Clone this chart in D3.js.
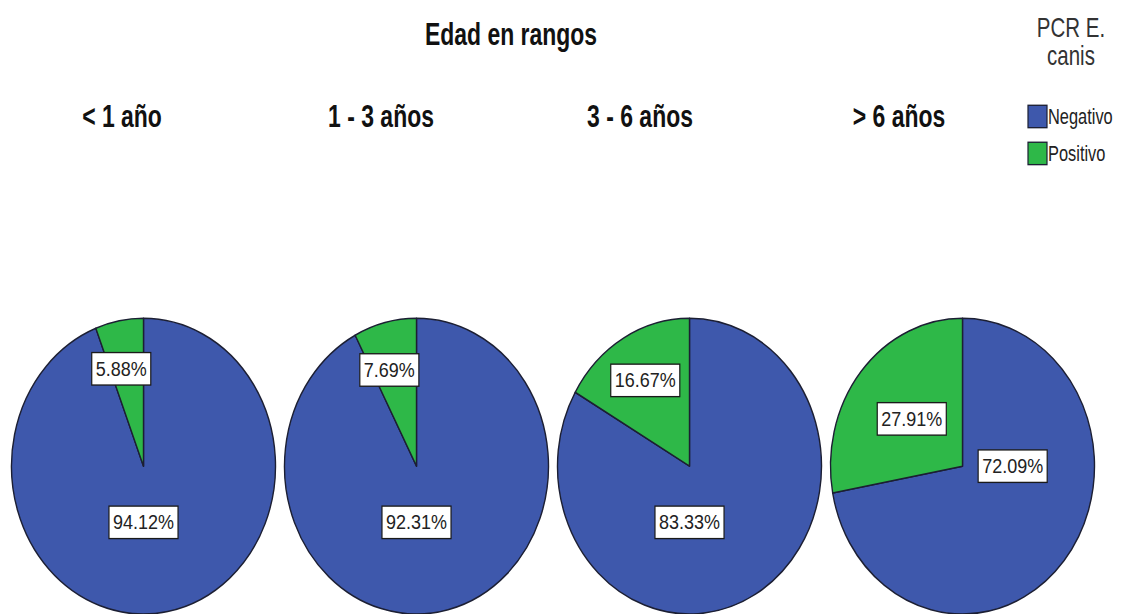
<!DOCTYPE html>
<html>
<head>
<meta charset="utf-8">
<script src="https://cdn.jsdelivr.net/npm/d3@7/dist/d3.min.js"></script>
<style>
  html, body { margin: 0; padding: 0; background: #ffffff; }
  svg { display: block; }
  .sans { font-family: "Liberation Sans", Arial, sans-serif; }
</style>
</head>
<body>
<svg id="chart" width="1125" height="614"></svg>
<script>
// Age groups (one pie per group)
const ageGroups = ["< 1 año", "1 - 3 años", "3 - 6 años", "> 6 años"];
// PCR result categories
const results = ["Negativo", "Positivo"];
// Percentage of each result within every age group
const negativoPct = [94.12, 92.31, 83.33, 72.09];
const positivoPct = [5.88, 7.69, 16.67, 27.91];

const chartTitle = "Edad en rangos";
const legendTitle = ["PCR E.", "canis"];

const W = 1125, H = 614;
const yStretch = 1.12;              // vertical stretch of the whole drawing
const innerH = H / yStretch;
const narrow = 0.82;                // horizontal squeeze for condensed lettering

const colors = d3.scaleOrdinal().domain(results).range(["#3e58ac", "#2eb848"]);
const edge = "#1c1f33";

const svg = d3.select("#chart");
const root = svg.append("g").attr("transform", `scale(1, ${yStretch})`);

// condensed text: a squeezed group placed at (x, y)
function condensed(parent, x, y, txt, opts) {
  const g = parent.append("g")
    .attr("transform", `translate(${x},${y}) scale(${narrow},1)`);
  return g.append("text")
    .attr("class", "sans")
    .attr("text-anchor", opts.anchor || "middle")
    .attr("font-weight", opts.weight || "normal")
    .attr("font-size", opts.size)
    .attr("fill", opts.fill || "#111")
    .text(txt);
}

// pie columns and header positions
const xPie = d3.scaleBand().domain(ageGroups).range([7, 1099]).padding(0);
const xHead = d3.scalePoint().domain(ageGroups).range([122, 899]);

const R = xPie.bandwidth() / 2 - 4.5;
const cy = innerH - R;

// title
condensed(root, 511, 40, chartTitle, { size: 28, weight: "bold" });

// column headers
ageGroups.forEach(g => condensed(root, xHead(g), 113, g, { size: 28, weight: "bold" }));

// legend
legendTitle.forEach((t, i) => condensed(root, 1071, 33 + i * 25, t, { size: 25, fill: "#333" }));

results.forEach((r, i) => {
  const y0 = 94 + i * 33;
  root.append("rect")
    .attr("x", 1028).attr("y", y0)
    .attr("width", 19).attr("height", 20)
    .attr("fill", colors(r))
    .attr("stroke", edge).attr("stroke-width", 1.2);
  condensed(root, 1048, y0 + 17, r, { size: 20, anchor: "start", fill: "#222" });
});

// pies
const pie = d3.pie().sort(null).value(d => d.value).startAngle(0).endAngle(2 * Math.PI);
const arc = d3.arc().innerRadius(0).outerRadius(R);

const groups = ageGroups.map((g, i) => ({
  group: g,
  slices: [
    { key: results[0], value: negativoPct[i] },
    { key: results[1], value: positivoPct[i] }
  ]
}));

const pies = root.selectAll("g.pie")
  .data(groups)
  .join("g")
  .attr("class", "pie")
  .attr("transform", d => `translate(${xPie(d.group) + xPie.bandwidth() / 2}, ${cy})`);

pies.selectAll("path")
  .data(d => pie(d.slices))
  .join("path")
  .attr("d", arc)
  .attr("fill", d => colors(d.data.key))
  .attr("stroke", edge)
  .attr("stroke-width", 1.4)
  .attr("stroke-linejoin", "round");

// label anchor: the largest slice's label sits on the nearest axis direction,
// smaller slices are labelled along their bisector
function labelPos(d) {
  const mid = (d.startAngle + d.endAngle) / 2;
  const frac = (d.endAngle - d.startAngle) / (2 * Math.PI);
  let a, r;
  if (frac > 0.5) {
    a = Math.round(mid / (Math.PI / 2)) * (Math.PI / 2);
    r = R * 0.38;
  } else {
    a = mid;
    r = frac < 0.2 ? R * 0.67 : R * 0.5;
  }
  return [Math.sin(a) * r - (frac < 0.1 ? 6 : 0), -Math.cos(a) * r];
}

const labels = pies.selectAll("g.lbl")
  .data(d => pie(d.slices))
  .join("g")
  .attr("class", "lbl")
  .attr("transform", d => `translate(${labelPos(d)})`);

labels.append("text")
  .attr("class", "sans")
  .attr("text-anchor", "middle")
  .attr("dominant-baseline", "central")
  .attr("font-size", 18)
  .attr("fill", "#222")
  .text(d => d3.format(".2f")(d.data.value) + "%");

labels.each(function () {
  const g = d3.select(this);
  const bb = g.select("text").node().getBBox();
  g.insert("rect", "text")
    .attr("x", bb.x - 4).attr("y", -14.5)
    .attr("width", bb.width + 8).attr("height", 29)
    .attr("fill", "#ffffff")
    .attr("stroke", "#1a1a1a").attr("stroke-width", 1.2);
});
</script>
</body>
</html>
